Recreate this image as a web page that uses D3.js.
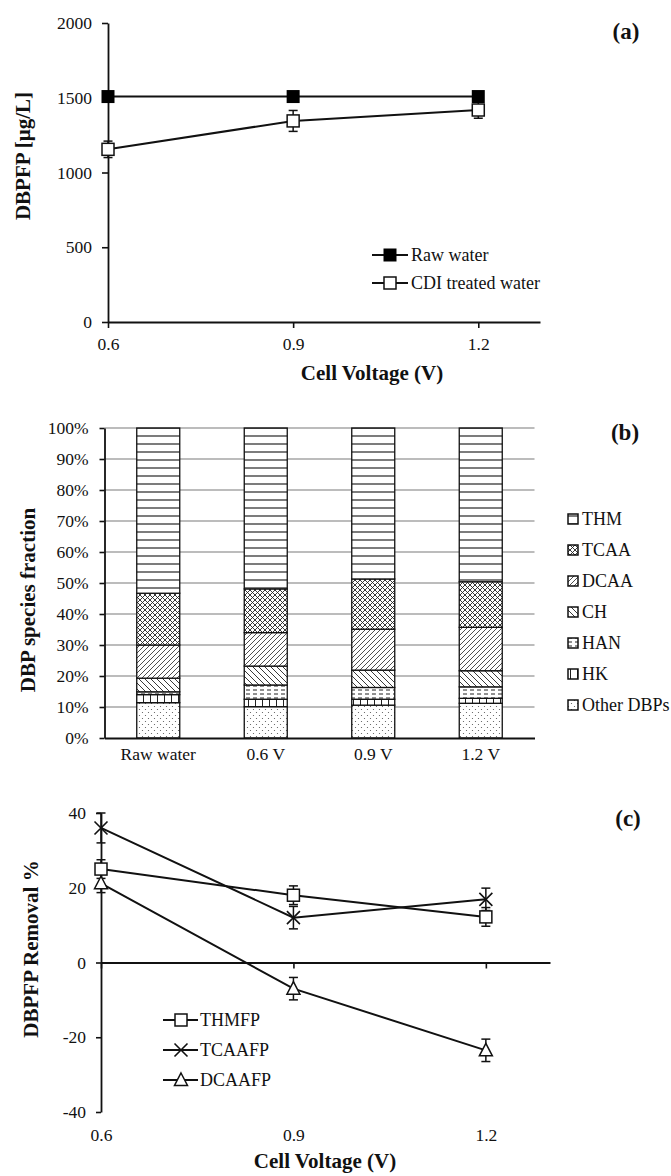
<!DOCTYPE html>
<html>
<head>
<meta charset="utf-8">
<script src="https://cdn.jsdelivr.net/npm/d3@7"></script>
<style>
  html, body { margin: 0; padding: 0; background: #fff; }
  svg text { font-family: "Liberation Serif", "Times New Roman", serif; fill: #111; }
</style>
</head>
<body>
<svg id="chart" width="671" height="1176"></svg>
<script>
// ---------- DATA ----------
// Panel (a)
const voltages = [0.6, 0.9, 1.2];
const rawWater = [1508, 1508, 1508];
const cdiTreated = [1155, 1345, 1418];
const cdiErr = [55, 70, 55];
const yTicksA = [0, 500, 1000, 1500, 2000];
const xTicks = [0.6, 0.9, 1.2];

// Panel (b) — percent of total DBP, per category
const categories = ["Raw water", "0.6 V", "0.9 V", "1.2 V"];
const species = ["THM", "TCAA", "DCAA", "CH", "HAN", "HK", "Other DBPs"];
const thm   = [53.3, 51.9, 48.7, 49.6];
const tcaa  = [16.7, 14.1, 16.2, 14.7];
const dcaa  = [10.7, 10.8, 13.2, 14.0];
const ch    = [4.4, 6.1, 5.6, 5.2];
const han   = [0.9, 4.6, 3.8, 3.7];
const hk    = [2.6, 2.4, 1.9, 1.6];
const other = [11.4, 10.1, 10.6, 11.2];
const yTicksB = [0, 10, 20, 30, 40, 50, 60, 70, 80, 90, 100];

// Panel (c)
const thmfp = [25.0, 18.0, 12.2];
const thmfpErr = [2.5, 2.5, 2.5];
const tcaafp = [36.0, 12.0, 16.9];
const tcaafpErr = [4.0, 3.0, 3.0];
const dcaafp = [21.2, -7.0, -23.5];
const dcaafpErr = [2.5, 3.0, 3.0];
const yTicksC = [-40, -20, 0, 20, 40];

// ---------- SETUP ----------
const svg = d3.select("#chart");
const defs = svg.append("defs");
const FONT_TICK = 17.5, FONT_LEG = 18, FONT_TITLE = 21, FONT_PANEL = 23;
const plain = d => String(d);

function styleAxis(g) {
  g.selectAll("path.domain").attr("stroke", "#111").attr("stroke-width", 1.8);
  g.selectAll(".tick line").attr("stroke", "#111").attr("stroke-width", 1.6);
  g.selectAll(".tick text").attr("font-size", FONT_TICK).attr("font-family", "Liberation Serif").attr("fill", "#111");
}
function errBar(g, x, y1, y2, cap) {
  g.append("line").attr("x1", x).attr("x2", x).attr("y1", y1).attr("y2", y2)
    .attr("stroke", "#111").attr("stroke-width", 1.5);
  [y1, y2].forEach(y => g.append("line").attr("x1", x - cap).attr("x2", x + cap)
    .attr("y1", y).attr("y2", y).attr("stroke", "#111").attr("stroke-width", 1.5));
}
function marker(g, type, x, y) {
  if (type === "filledSquare") {
    g.append("rect").attr("x", x - 6.5).attr("y", y - 6.5).attr("width", 13).attr("height", 13).attr("fill", "#000");
  } else if (type === "square") {
    g.append("rect").attr("x", x - 6).attr("y", y - 6).attr("width", 12).attr("height", 12)
      .attr("fill", "#fff").attr("stroke", "#111").attr("stroke-width", 1.5);
  } else if (type === "x") {
    const s = 6.5;
    g.append("path").attr("d", `M${x - s},${y - s}L${x + s},${y + s}M${x - s},${y + s}L${x + s},${y - s}`)
      .attr("stroke", "#111").attr("stroke-width", 1.6).attr("fill", "none");
  } else if (type === "triangle") {
    g.append("path").attr("d", `M${x},${y - 7}L${x + 6.5},${y + 5.5}L${x - 6.5},${y + 5.5}Z`)
      .attr("fill", "#fff").attr("stroke", "#111").attr("stroke-width", 1.5);
  }
}
function panelLabel(txt, x, y) {
  svg.append("text").attr("x", x).attr("y", y).attr("dy", "0.35em").attr("text-anchor", "middle")
    .attr("font-size", FONT_PANEL).attr("font-weight", "bold").text(txt);
}
function yTitle(txt, x, y) {
  svg.append("text").attr("transform", `translate(${x},${y}) rotate(-90)`).attr("dy", "0.35em")
    .attr("text-anchor", "middle").attr("font-size", FONT_TITLE).attr("font-weight", "bold").text(txt);
}
function xTitle(txt, x, y) {
  svg.append("text").attr("x", x).attr("y", y).attr("dy", "0.35em").attr("text-anchor", "middle")
    .attr("font-size", FONT_TITLE).attr("font-weight", "bold").text(txt);
}

// ---------- PANEL (a) ----------
const xA = d3.scaleLinear().domain([0.6, 1.3]).range([108, 540]);
const yA = d3.scaleLinear().domain([0, 2000]).range([322, 23]);
const gA = svg.append("g");

gA.append("g").attr("transform", `translate(0,${yA(0)})`)
  .call(d3.axisBottom(xA).tickValues(xTicks).tickFormat(d3.format(".1f")).tickSize(6).tickPadding(10).tickSizeOuter(0))
  .call(styleAxis);
gA.append("g").attr("transform", `translate(${xA(0.6)},0)`)
  .call(d3.axisLeft(yA).tickValues(yTicksA).tickFormat(plain).tickSize(6).tickPadding(10).tickSizeOuter(0))
  .call(styleAxis);

const lineA = d3.line().x((d, i) => xA(voltages[i])).y(d => yA(d));
gA.append("path").datum(rawWater).attr("d", lineA).attr("fill", "none").attr("stroke", "#111").attr("stroke-width", 2);
gA.append("path").datum(cdiTreated).attr("d", lineA).attr("fill", "none").attr("stroke", "#111").attr("stroke-width", 2);
cdiTreated.forEach((v, i) => errBar(gA, xA(voltages[i]), yA(v + cdiErr[i]), yA(v - cdiErr[i]), 4.5));
rawWater.forEach((v, i) => marker(gA, "filledSquare", xA(voltages[i]), yA(v)));
cdiTreated.forEach((v, i) => marker(gA, "square", xA(voltages[i]), yA(v)));

// legend (a)
[["Raw water", "filledSquare", 255], ["CDI treated water", "square", 283]].forEach(([t, m, y]) => {
  gA.append("line").attr("x1", 372).attr("x2", 408).attr("y1", y).attr("y2", y).attr("stroke", "#111").attr("stroke-width", 2);
  marker(gA, m, 390, y);
  gA.append("text").attr("x", 411).attr("y", y).attr("dy", "0.33em").attr("font-size", FONT_LEG).text(t);
});
yTitle("DBPFP [µg/L]", 23, 156);
xTitle("Cell Voltage (V)", 372, 373);
panelLabel("(a)", 626, 31);

// ---------- PANEL (b) ----------
const pid = s => "p-" + s.replace(/ /g, "");
function pat(name, w, h, draw) {
  const p = defs.append("pattern").attr("id", pid(name)).attr("patternUnits", "userSpaceOnUse")
    .attr("width", w).attr("height", h);
  p.append("rect").attr("width", w).attr("height", h).attr("fill", "#fff");
  draw(p);
}
pat("THM", 10, 8, p => p.append("line").attr("x1", 0).attr("x2", 10).attr("y1", 4).attr("y2", 4).attr("stroke", "#111").attr("stroke-width", 1.1));
pat("TCAA", 5, 5, p => p.append("path").attr("d", "M0,0L5,5M5,0L0,5").attr("stroke", "#222").attr("stroke-width", 0.9));
pat("DCAA", 5, 5, p => p.append("path").attr("d", "M0,5L5,0M-1,1L1,-1M4,6L6,4").attr("stroke", "#222").attr("stroke-width", 0.8));
pat("CH", 6, 6, p => p.append("path").attr("d", "M0,0L6,6M-1,5L1,7M5,-1L7,1").attr("stroke", "#222").attr("stroke-width", 0.9));
pat("HAN", 7, 4, p => p.append("line").attr("x1", 1).attr("x2", 5).attr("y1", 2).attr("y2", 2).attr("stroke", "#222").attr("stroke-width", 1));
pat("HK", 7, 10, p => p.append("line").attr("x1", 3.5).attr("x2", 3.5).attr("y1", 0).attr("y2", 10).attr("stroke", "#222").attr("stroke-width", 1));
pat("Other DBPs", 6, 6, p => {
  p.append("circle").attr("cx", 1.5).attr("cy", 1.5).attr("r", 0.6).attr("fill", "#555");
  p.append("circle").attr("cx", 4.5).attr("cy", 4.5).attr("r", 0.6).attr("fill", "#555");
});

const xB = d3.scaleBand().domain(categories).range([104.5, 534.5]).paddingInner(0.6).paddingOuter(0.3);
const yB = d3.scaleLinear().domain([0, 100]).range([738, 428]);
const gB = svg.append("g");

// grid
gB.selectAll("line.grid").data(yTicksB.filter(d => d > 0)).enter().append("line")
  .attr("x1", 104.5).attr("x2", 534.5).attr("y1", d => yB(d)).attr("y2", d => yB(d))
  .attr("stroke", "#a6a6a6").attr("stroke-width", 1.5);

const seriesB = { "THM": thm, "TCAA": tcaa, "DCAA": dcaa, "CH": ch, "HAN": han, "HK": hk, "Other DBPs": other };
const rows = categories.map((c, i) => {
  const r = { cat: c };
  species.forEach(s => r[s] = seriesB[s][i]);
  return r;
});
const stackOrder = species.slice().reverse(); // bottom: Other DBPs ... top: THM
const stacked = d3.stack().keys(stackOrder)(rows);
stacked.forEach(layer => {
  gB.selectAll(null).data(layer).enter().append("rect")
    .attr("x", d => xB(d.data.cat)).attr("width", xB.bandwidth())
    .attr("y", d => yB(d[1])).attr("height", d => yB(d[0]) - yB(d[1]))
    .attr("fill", `url(#${pid(layer.key)})`)
    .attr("stroke", "#111").attr("stroke-width", 1.3);
});

gB.append("g").attr("transform", `translate(104.5,0)`)
  .call(d3.axisLeft(yB).tickValues(yTicksB).tickFormat(d => d + "%").tickSize(5).tickPadding(11).tickSizeOuter(0))
  .call(styleAxis);
const axB = gB.append("g").attr("transform", `translate(0,${yB(0)})`)
  .call(d3.axisBottom(xB).tickSize(0).tickPadding(10).tickSizeOuter(0))
  .call(styleAxis);
axB.selectAll(".tick text").attr("y", 22).attr("dy", "0");

// legend (b)
species.forEach((s, i) => {
  const y = 519 + i * 31;
  gB.append("rect").attr("x", 568).attr("y", y - 5).attr("width", 10).attr("height", 10)
    .attr("fill", `url(#${pid(s)})`).attr("stroke", "#111").attr("stroke-width", 1.5);
  gB.append("text").attr("x", 582).attr("y", y).attr("dy", "0.35em").attr("font-size", FONT_LEG).text(s);
});
yTitle("DBP species fraction", 28, 600);
panelLabel("(b)", 625, 432);

// ---------- PANEL (c) ----------
const xC = d3.scaleLinear().domain([0.6, 1.3]).range([101, 550]);
const yC = d3.scaleLinear().domain([-40, 40]).range([1112, 813]);
const gC = svg.append("g");
const axC = gC.append("g").attr("transform", `translate(0,${yC(0)})`)
  .call(d3.axisBottom(xC).tickValues(xTicks).tickFormat(d3.format(".1f")).tickSize(6).tickPadding(10).tickSizeOuter(0))
  .call(styleAxis);
axC.selectAll(".tick text").attr("y", 1135 - yC(0)).attr("dy", "0.35em");
gC.append("g").attr("transform", `translate(${xC(0.6)},0)`)
  .call(d3.axisLeft(yC).tickValues(yTicksC).tickFormat(plain).tickSize(5).tickPadding(10).tickSizeOuter(0))
  .call(styleAxis);

const seriesC = [
  { name: "THMFP", vals: thmfp, err: thmfpErr, m: "square" },
  { name: "TCAAFP", vals: tcaafp, err: tcaafpErr, m: "x" },
  { name: "DCAAFP", vals: dcaafp, err: dcaafpErr, m: "triangle" }
];
const lineC = d3.line().x((d, i) => xC(voltages[i])).y(d => yC(d));
seriesC.forEach(s => gC.append("path").datum(s.vals).attr("d", lineC).attr("fill", "none").attr("stroke", "#111").attr("stroke-width", 2));
seriesC.forEach(s => s.vals.forEach((v, i) => errBar(gC, xC(voltages[i]), yC(v + s.err[i]), yC(v - s.err[i]), 4.5)));
seriesC.forEach(s => s.vals.forEach((v, i) => marker(gC, s.m, xC(voltages[i]), yC(v))));

seriesC.forEach((s, i) => {
  const y = 1020 + i * 30;
  gC.append("line").attr("x1", 163).attr("x2", 198).attr("y1", y).attr("y2", y).attr("stroke", "#111").attr("stroke-width", 2);
  marker(gC, s.m, 181, y);
  gC.append("text").attr("x", 200).attr("y", y).attr("dy", "0.33em").attr("font-size", FONT_LEG).text(s.name);
});
yTitle("DBPFP Removal %", 31, 949);
xTitle("Cell Voltage (V)", 325, 1161);
panelLabel("(c)", 628, 818);
</script>
</body>
</html>
